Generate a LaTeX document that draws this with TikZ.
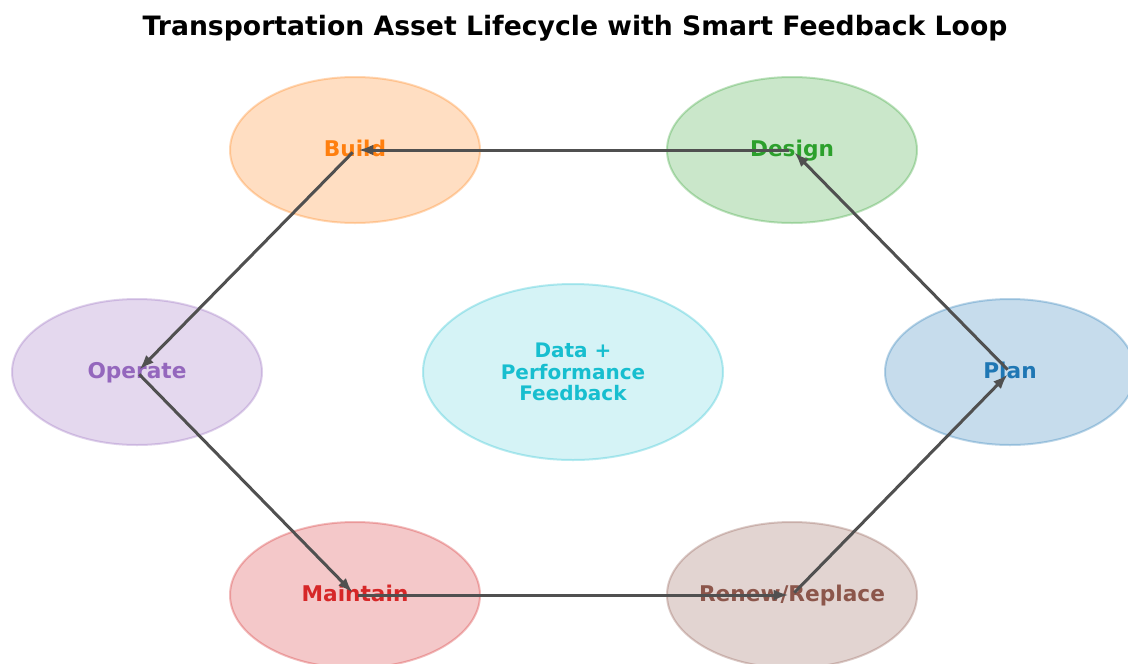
\documentclass[tikz,border=0pt]{standalone}
\usepackage{fontspec}
\setmainfont{DejaVu Sans}
\usetikzlibrary{shapes.geometric,arrows.meta}
\definecolor{tabblue}{HTML}{1F77B4}
\definecolor{taborange}{HTML}{FF7F0E}
\definecolor{tabgreen}{HTML}{2CA02C}
\definecolor{tabred}{HTML}{D62728}
\definecolor{tabpurple}{HTML}{9467BD}
\definecolor{tabbrown}{HTML}{8C564B}
\definecolor{tabcyan}{HTML}{17BECF}
\definecolor{flowgray}{HTML}{505050}
\tikzset{
  phase/.style={ellipse, draw=#1, fill=#1, fill opacity=0.25, draw opacity=0.3,
    line width=1.2pt, inner sep=0pt, minimum width=150pt, minimum height=87.6pt},
  phaselabel/.style={text=#1, text opacity=1, inner sep=0pt,
    font=\fontsize{13}{15}\selectfont\bfseries},
  onerow/.style={text height=0.95em, text depth=0.22em},
  flow/.style={draw=flowgray, line width=1.8pt, -{Latex[length=9pt,width=6.5pt]},
    shorten >=2pt, shorten <=2pt}
}
\begin{document}
\begin{tikzpicture}[x=0.6pt,y=-0.6pt]
  % page frame, 1 unit = 1 pixel of the picture
  \useasboundingbox (0,0) rectangle (1128,663);
  \fill[white] (0,0) rectangle (1128,663);
  \clip (0,0) rectangle (1128,663);
  \node[anchor=base, font=\fontsize{16}{19}\selectfont\bfseries] (title) at (575,35)
    {Transportation Asset Lifecycle with Smart Feedback Loop};
  % the six stages round the hub
  \node[phase=tabblue, label={[phaselabel=tabblue, onerow]center:Plan}] (plan) at (1010,372) {};
  \node[phase=tabgreen, label={[phaselabel=tabgreen, onerow]center:Design}] (design) at (792,150) {};
  \node[phase=taborange, label={[phaselabel=taborange, onerow]center:Build}] (build) at (355,150) {};
  \node[phase=tabpurple, label={[phaselabel=tabpurple, onerow]center:Operate}] (operate) at (137,372) {};
  \node[phase=tabred, label={[phaselabel=tabred, onerow]center:Maintain}] (maintain) at (355,595) {};
  \node[phase=tabbrown, label={[phaselabel=tabbrown, onerow]center:Renew/Replace}] (renew) at (792,595) {};
  % feedback in the middle
  \node[phase=tabcyan, fill opacity=0.18, minimum width=180pt, minimum height=105.6pt,
    label={[phaselabel=tabcyan, align=center, font=\fontsize{12}{12.9}\selectfont\bfseries]center:Data +\\Performance\\Feedback}] (hub) at (573,372) {};
  % the loop
  \foreach \from/\to in {plan/design, design/build, build/operate,
      operate/maintain, maintain/renew, renew/plan}
    \draw[flow] (\from.center) -- (\to.center);
\end{tikzpicture}
\end{document}
